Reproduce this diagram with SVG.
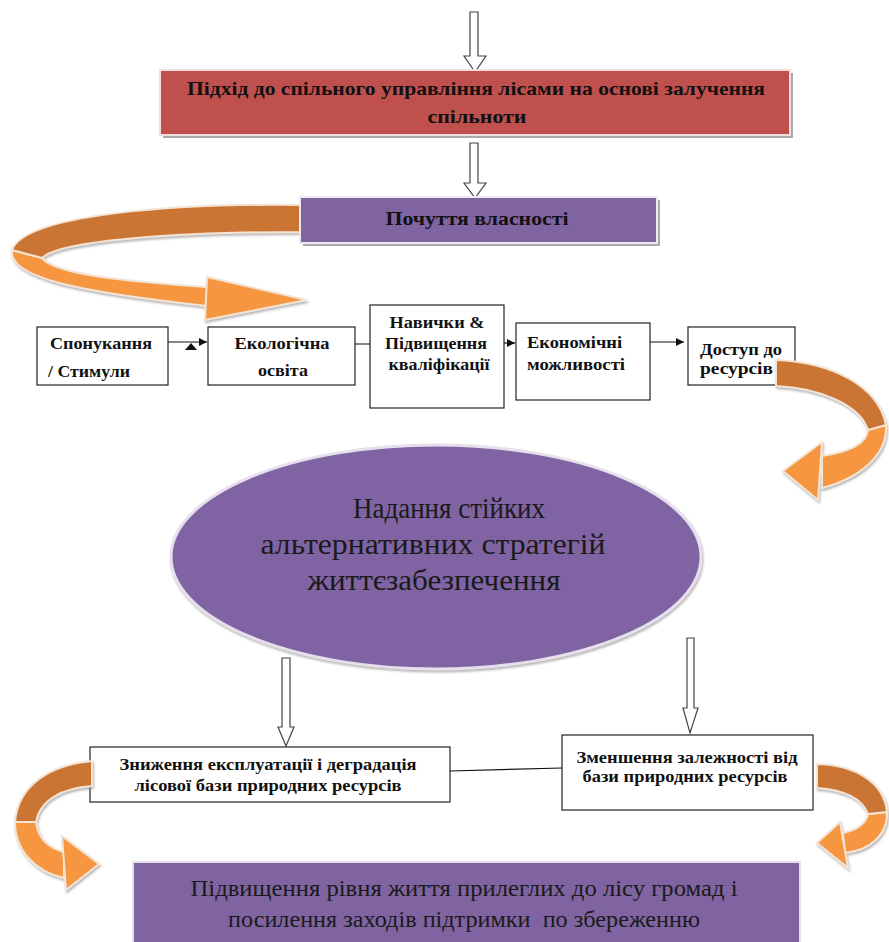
<svg xmlns="http://www.w3.org/2000/svg" width="889" height="942" viewBox="0 0 889 942">
<style>
text{font-family:'Liberation Serif','Times New Roman',Tinos,'DejaVu Serif','Noto Serif',serif;}
.bt{font-weight:bold;fill:#111;}
.rt{fill:#1a1a1a;}
.box{fill:#fff;stroke:#222;stroke-width:1.2;}
.hollow{fill:#fff;stroke:#444;stroke-width:1.2;}
.con{stroke:#111;stroke-width:1.2;fill:none;}
.dark{fill:#CB7535;stroke:#f3e4d6;stroke-width:2;}
.light{fill:#F7963F;stroke:#f3e4d6;stroke-width:2;}
</style>
<defs>
<marker id="ah" viewBox="0 0 10 10" refX="10" refY="5" markerWidth="9" markerHeight="8" markerUnits="userSpaceOnUse" orient="auto">
<path d="M0,0 L10,5 L0,10 Z" fill="#111"/>
</marker>
<filter id="sh" x="-10%" y="-10%" width="120%" height="130%">
<feDropShadow dx="1" dy="2" stdDeviation="1.2" flood-color="#888" flood-opacity="0.6"/>
</filter>
</defs>
<rect width="889" height="942" fill="#fff"/>

<g id="ribbon1" filter="url(#sh)">
<path class="light" d="M12,250 C8,278 80,292 207,306 L207,287 C120,281 55,274 42,258 Z"/>
<path class="light" d="M207,277 L307,300 L205,320 Z"/>
<path class="dark" d="M305,205 C170,203 25,215 12,250 L42,258 C60,240 180,232 305,232 Z"/>
</g>

<g id="connectors">
<path class="hollow" d="M470,12 L478,12 L478,56 L486,56 L475,72 L464,56 L470,56 Z"/>
<path class="hollow" d="M470,143 L478,143 L478,183 L486,183 L475,198 L464,183 L470,183 Z"/>
<line class="con" x1="168" y1="342" x2="207" y2="342" marker-end="url(#ah)"/>
<path d="M185,350 L197,350 L191,343 Z" fill="#111"/>
<line class="con" x1="355" y1="344" x2="388" y2="344" marker-end="url(#ah)"/>
<line class="con" x1="488" y1="343" x2="515" y2="343" marker-end="url(#ah)"/>
<line class="con" x1="650" y1="342" x2="684" y2="342" marker-end="url(#ah)"/>
<path class="hollow" d="M282,658 L290,658 L290,727 L294,727 L286,746 L278,727 L282,727 Z"/>
<path class="hollow" d="M687,638 L694,638 L694,708 L698,708 L690,733 L683,708 L687,708 Z"/>
<line class="con" x1="450" y1="771" x2="562" y2="768"/>
</g>

<g id="n-approach">
<rect x="163" y="73" width="630" height="65" fill="#aaa"/>
<rect x="160" y="70" width="630" height="65" fill="#C0504D" stroke="#f1dede" stroke-width="2"/>
<text class="bt" font-size="19" x="476" y="95" text-anchor="middle" textLength="578" lengthAdjust="spacingAndGlyphs">Підхід до спільного управління лісами на основі залучення</text>
<text class="bt" font-size="19" x="477" y="123" text-anchor="middle" textLength="99" lengthAdjust="spacingAndGlyphs">спільноти</text>
</g>

<g id="n-ownership">
<rect x="303" y="200" width="357" height="46" fill="#aaa"/>
<rect x="300" y="197" width="357" height="46" fill="#8064A2" stroke="#eee8f3" stroke-width="2"/>
<text class="bt" font-size="19" x="477" y="225" text-anchor="middle" textLength="183" lengthAdjust="spacingAndGlyphs">Почуття власності</text>
</g>

<g id="n-incentives">
<rect class="box" x="37" y="327" width="131" height="58"/>
<text class="bt" font-size="17" x="50" y="349" textLength="102" lengthAdjust="spacingAndGlyphs">Спонукання</text>
<text class="bt" font-size="17" x="48" y="377" textLength="82" lengthAdjust="spacingAndGlyphs">/ Стимули</text>
</g>

<g id="n-education">
<rect class="box" x="208" y="327" width="147" height="58"/>
<text class="bt" font-size="17" x="282" y="349" text-anchor="middle" textLength="95" lengthAdjust="spacingAndGlyphs">Екологічна</text>
<text class="bt" font-size="17" x="283" y="376" text-anchor="middle" textLength="50" lengthAdjust="spacingAndGlyphs">освіта</text>
</g>

<g id="n-skills">
<rect class="box" x="370" y="305" width="134" height="103"/>
<text class="bt" font-size="17" x="437" y="328" text-anchor="middle" textLength="95" lengthAdjust="spacingAndGlyphs">Навички &amp;</text>
<text class="bt" font-size="17" x="436" y="349" text-anchor="middle" textLength="102" lengthAdjust="spacingAndGlyphs">Підвищення</text>
<text class="bt" font-size="17" x="439" y="370" text-anchor="middle" textLength="101" lengthAdjust="spacingAndGlyphs">кваліфікації</text>
</g>

<g id="n-economic">
<rect class="box" x="516" y="323" width="134" height="77"/>
<text class="bt" font-size="17" x="527" y="348" textLength="95" lengthAdjust="spacingAndGlyphs">Економічні</text>
<text class="bt" font-size="17" x="527" y="370" textLength="98" lengthAdjust="spacingAndGlyphs">можливості</text>
</g>

<g id="n-access">
<rect class="box" x="688" y="327" width="107" height="58"/>
<text class="bt" font-size="17" x="700" y="355" textLength="82" lengthAdjust="spacingAndGlyphs">Доступ до</text>
<text class="bt" font-size="17" x="700" y="374" textLength="73" lengthAdjust="spacingAndGlyphs">ресурсів</text>
</g>

<g id="ribbon2" filter="url(#sh)">
<path class="light" d="M886,425 C888,455 860,478 822,488 L822,456 C848,452 866,445 868,430 Z"/>
<path class="light" d="M822,442 L783,471 L818,500 Z"/>
<path class="dark" d="M776,360 C830,362 878,385 886,425 L868,430 C860,405 820,388 776,386 Z"/>
</g>

<g id="n-strategies">
<ellipse cx="436" cy="557" rx="265" ry="112" fill="#8064A2" stroke="#e6e0ec" stroke-width="3" filter="url(#sh)"/>
<text class="rt" font-size="29" x="449" y="518" text-anchor="middle" textLength="192" lengthAdjust="spacingAndGlyphs">Надання стійких</text>
<text class="rt" font-size="29" x="433" y="554" text-anchor="middle" textLength="345" lengthAdjust="spacingAndGlyphs">альтернативних стратегій</text>
<text class="rt" font-size="29" x="434" y="590" text-anchor="middle" textLength="253" lengthAdjust="spacingAndGlyphs">життєзабезпечення</text>
</g>

<g id="n-reduce-exploit">
<rect class="box" x="90" y="747" width="360" height="55"/>
<text class="bt" font-size="16" x="268" y="770" text-anchor="middle" textLength="297" lengthAdjust="spacingAndGlyphs">Зниження експлуатації і деградація</text>
<text class="bt" font-size="16" x="268" y="791" text-anchor="middle" textLength="267" lengthAdjust="spacingAndGlyphs">лісової бази природних ресурсів</text>
</g>

<g id="n-reduce-depend">
<rect class="box" x="562" y="735" width="251" height="75"/>
<text class="bt" font-size="16" x="687" y="763" text-anchor="middle" textLength="221" lengthAdjust="spacingAndGlyphs">Зменшення залежності від</text>
<text class="bt" font-size="16" x="685" y="782" text-anchor="middle" textLength="205" lengthAdjust="spacingAndGlyphs">бази природних ресурсів</text>
</g>

<g id="ribbon3" filter="url(#sh)">
<path class="light" d="M15,822 C15,850 35,872 64,878 L64,852 C48,848 38,838 36,822 Z"/>
<path class="light" d="M62,836 L99,864 L66,890 Z"/>
<path class="dark" d="M92,761 C50,765 18,785 15,822 L36,822 C40,800 62,788 92,786 Z"/>
</g>

<g id="ribbon4" filter="url(#sh)">
<path class="light" d="M887,812 C888,835 870,850 845,853 L843,833 C856,830 866,824 868,814 Z"/>
<path class="light" d="M840,822 L817,843 L848,868 Z"/>
<path class="dark" d="M817,764 C855,765 884,782 887,812 L868,814 C862,798 845,790 817,788 Z"/>
</g>

<g id="n-livelihood">
<rect x="133" y="862" width="667" height="84" fill="#8064A2" stroke="#e6e0ec" stroke-width="2"/>
<text class="rt" font-size="23" x="464" y="896" text-anchor="middle" textLength="547" lengthAdjust="spacingAndGlyphs">Підвищення рівня життя прилеглих до лісу громад і</text>
<text class="rt" font-size="23" x="464" y="927" text-anchor="middle" textLength="472" lengthAdjust="spacingAndGlyphs" xml:space="preserve">посилення заходів підтримки  по збереженню</text>
</g>
</svg>
